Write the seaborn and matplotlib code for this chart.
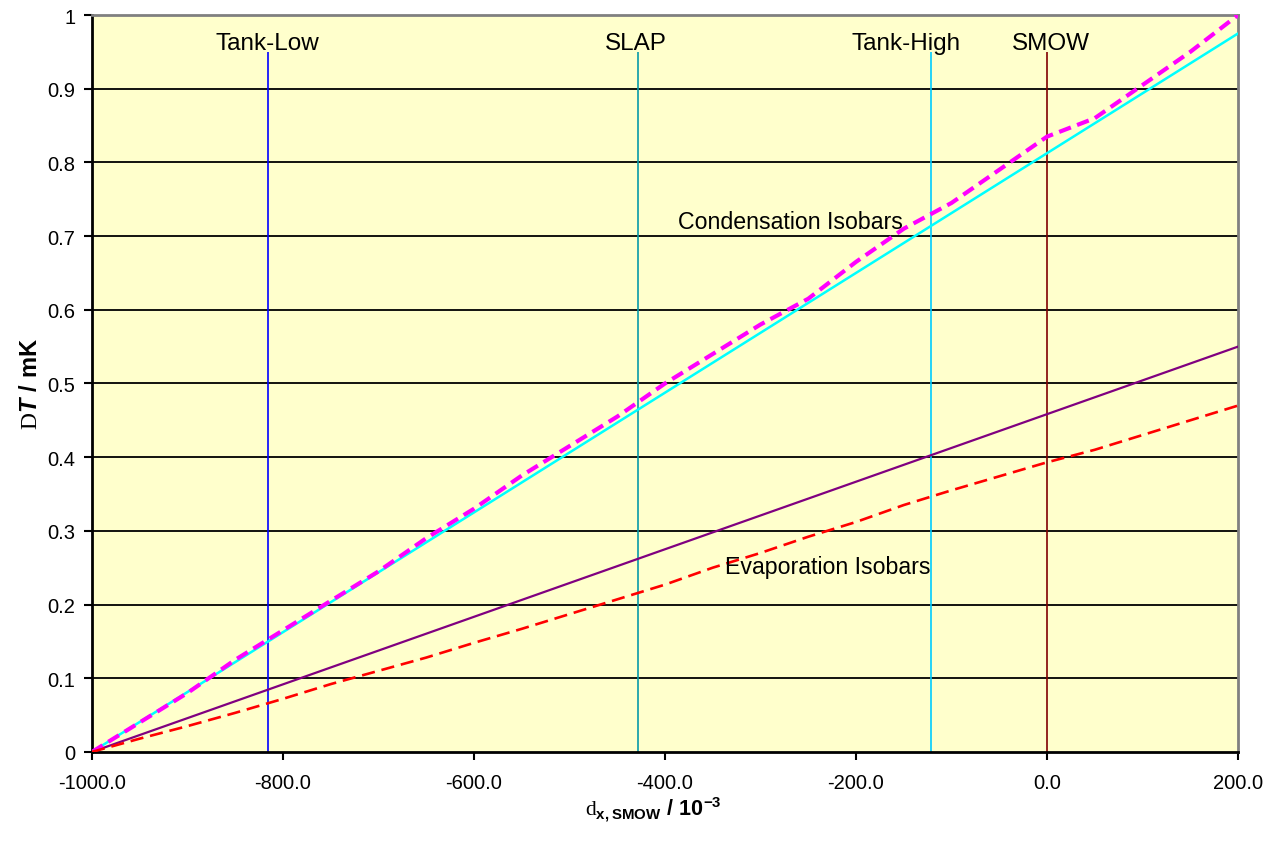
import matplotlib
matplotlib.use("Agg")
import matplotlib.pyplot as plt
import seaborn as sns
import pandas as pd

# delta x,SMOW (10^-3) grid for the measured isobars
delta_x = [-1000, -950, -900, -850, -800, -750, -700, -650, -600, -550, -500,
           -450, -400, -350, -300, -250, -200, -150, -100, -50, 0, 50, 100,
           150, 200]
condensation = [0.0, 0.04, 0.08, 0.125, 0.165, 0.205, 0.245, 0.29, 0.33,
                0.375, 0.415, 0.455, 0.50, 0.54, 0.58, 0.615, 0.665, 0.71,
                0.745, 0.79, 0.835, 0.86, 0.905, 0.95, 1.0]
evaporation = [0.0, 0.018, 0.035, 0.053, 0.072, 0.092, 0.11, 0.128, 0.148,
               0.167, 0.187, 0.207, 0.227, 0.25, 0.27, 0.292, 0.312, 0.335,
               0.355, 0.374, 0.393, 0.41, 0.43, 0.45, 0.47]

# straight-line fits
fit_x = [-1000, 200]
cond_fit = [0.0, 0.975]
evap_fit = [0.0, 0.55]

# reference waters
ref_names = ["Tank-Low", "SLAP", "Tank-High", "SMOW"]
ref_x = [-816, -428, -121, 0]
ref_colors = ["#0000FF", "#0899A8", "#00CCFF", "#800000"]
ref_label_x = [-816, -431, -148, 4]

x_ticks = [-1000, -800, -600, -400, -200, 0, 200]
y_ticks = [0, 0.1, 0.2, 0.3, 0.4, 0.5, 0.6, 0.7, 0.8, 0.9, 1.0]

sns.set_style("white")
plt.rcParams["font.family"] = ["Liberation Sans", "DejaVu Sans"]
plt.rcParams["text.color"] = "black"
plt.rcParams["axes.labelcolor"] = "black"
plt.rcParams["mathtext.fontset"] = "custom"
plt.rcParams["mathtext.rm"] = "Liberation Serif"
plt.rcParams["mathtext.bf"] = "Liberation Sans:bold"
plt.rcParams["mathtext.it"] = "Liberation Sans:bold:italic"

meas = pd.DataFrame({"x": delta_x, "cond": condensation, "evap": evaporation})
fits = pd.DataFrame({"x": fit_x, "cond": cond_fit, "evap": evap_fit})

fig = plt.figure(figsize=(12.67, 8.45), dpi=100)
ax = fig.add_axes([0.0726, 0.109, 0.9045, 0.872])
ax.set_facecolor("#FFFFCC")

for yv in y_ticks[1:-1]:
    ax.axhline(yv, color="black", lw=1.3, zorder=1)

ax.vlines(ref_x, 0, 0.95, colors=ref_colors, lw=1.2, zorder=2)
for name, lx in zip(ref_names, ref_label_x):
    ax.text(lx, 0.962, name, ha="center", va="center", fontsize=17.5,
            color="black", zorder=3)

sns.lineplot(data=fits, x="x", y="cond", ax=ax, color="#00FFFF", lw=1.8,
             zorder=4)
sns.lineplot(data=fits, x="x", y="evap", ax=ax, color="#800080", lw=1.6,
             zorder=4)
sns.lineplot(data=meas, x="x", y="cond", ax=ax, color="#FF00FF", lw=3,
             linestyle=(0, (3, 1.6)), zorder=5)
sns.lineplot(data=meas, x="x", y="evap", ax=ax, color="#FF0000", lw=1.9,
             linestyle=(0, (5, 2.6)), zorder=5)

ax.text(-269, 0.72, "Condensation Isobars", ha="center", va="center",
        fontsize=16.7, color="black", zorder=6)
ax.text(-230, 0.252, "Evaporation Isobars", ha="center", va="center",
        fontsize=16.7, color="black", zorder=6)

ax.set_xlim(-1000, 200)
ax.set_ylim(0, 1)
ax.set_xticks(x_ticks)
ax.set_xticklabels([f"{v:.1f}" for v in x_ticks])
ax.set_yticks(y_ticks)
ax.set_yticklabels([f"{v:g}" for v in y_ticks])
ax.tick_params(axis="both", direction="out", length=6, width=1.5,
               colors="black", labelsize=14.5, pad=6, left=True, bottom=True)
ax.tick_params(axis="x", pad=9)

for side in ["left", "bottom"]:
    ax.spines[side].set_color("black")
    ax.spines[side].set_linewidth(2)
for side in ["top", "right"]:
    ax.spines[side].set_color("#808080")
    ax.spines[side].set_linewidth(2)

ax.set_xlabel(r"$\mathrm{d}_{\mathbf{x,SMOW}}\ \mathbf{/\ 10^{-3}}$",
              fontsize=15.5, labelpad=0)
ax.set_ylabel(r"$\mathrm{D}\mathit{T}\ \mathbf{/\ mK}$", fontsize=17,
              labelpad=2)
ax.xaxis.set_label_coords(0.49, -0.057)
ax.yaxis.set_label_coords(-0.044, 0.5)

fig.savefig("out.png", dpi=100)
plt.close(fig)
